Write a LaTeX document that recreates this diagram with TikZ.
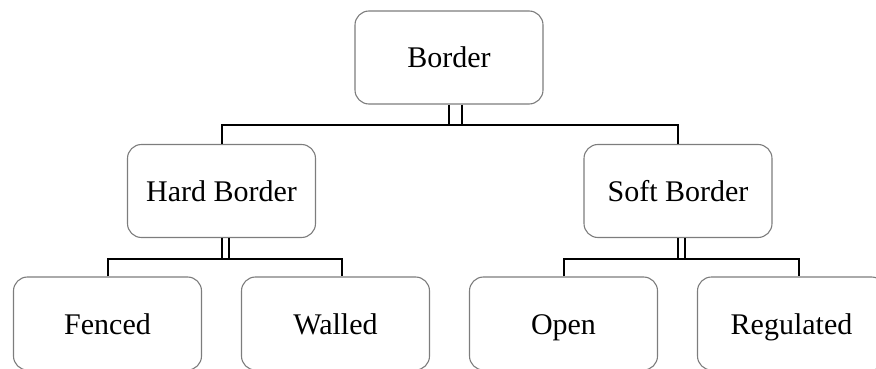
\documentclass[tikz,border=0pt]{standalone}
\usepackage{fontspec}
\setmainfont{Liberation Serif}
\definecolor{bdgray}{RGB}{125,125,125}
\usetikzlibrary{positioning,calc}

\begin{document}
\begin{tikzpicture}[x=1pt, y=-1pt,
        catbox/.style={rectangle, rounded corners=14pt, draw=bdgray, line width=1.1pt,
                       minimum width=188pt, minimum height=93pt, align=center,
                       text height=22pt, text depth=1pt,
                       font=\fontsize{30}{35}\selectfont},
        link/.style={black, line width=2pt}
      ]
        \useasboundingbox (0,0) rectangle (876,369);
        \node[catbox] (border) at (449,57.5) {Border};
        \node[catbox] (hard) at (221.5,191) {Hard Border};
        \node[catbox] (soft) at (678,191) {Soft Border};
        \node[catbox] (fenced) at (107.5,323.5) {Fenced};
        \node[catbox] (walled) at (335.5,323.5) {Walled};
        \node[catbox] (open) at (563.5,323.5) {Open};
        \node[catbox] (regul) at (791.5,323.5) {Regulated};
        % top level
        \coordinate (topbar) at (449,125);
        \draw[link] (border.south) -- (topbar);
        \draw[link] ([xshift=13pt]border.south) -- ([xshift=13pt]topbar);
        \draw[link] (hard.north) |- (topbar) -| (soft.north);
        % second level
        \coordinate (hardbar) at (221.5,259);
        \draw[link] (hard.south) -- (hardbar);
        \draw[link] ([xshift=7pt]hard.south) -- ([xshift=7pt]hardbar);
        \draw[link] (fenced.north) |- (hardbar) -| ([xshift=6pt]walled.north);
        \coordinate (softbar) at (678,259);
        \draw[link] (soft.south) -- (softbar);
        \draw[link] ([xshift=7pt]soft.south) -- ([xshift=7pt]softbar);
        \draw[link] (open.north) |- (softbar) -| ([xshift=7pt]regul.north);
      \end{tikzpicture}
\end{document}
